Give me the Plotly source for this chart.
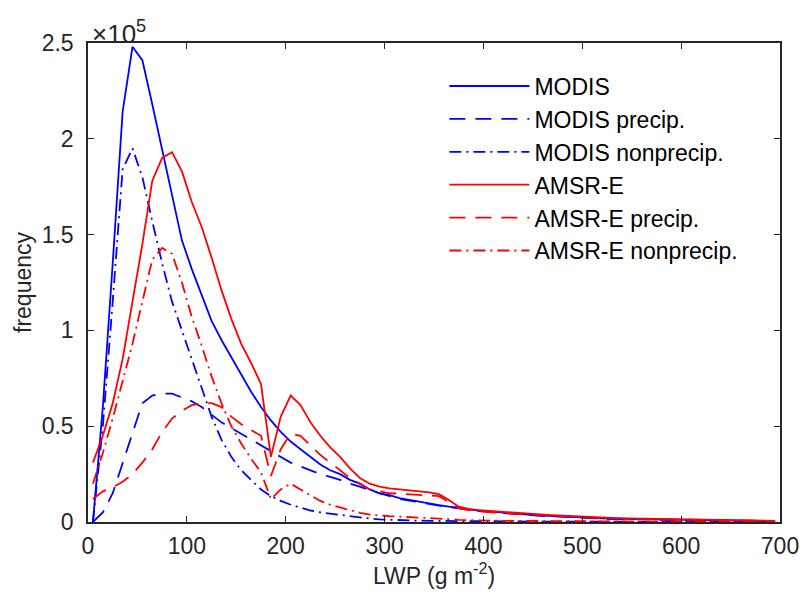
import plotly.graph_objects as go

lwp = list(range(5, 700, 10))

modis = [0, 0.6, 1.35, 2.14, 2.48, 2.41, 2.18, 1.94, 1.71, 1.47, 1.32, 1.19, 1.05, 0.95, 0.86, 0.77, 0.68, 0.60, 0.53, 0.47,
         0.42, 0.38, 0.34, 0.30, 0.27, 0.25, 0.22, 0.20, 0.17, 0.15, 0.14, 0.125, 0.115, 0.105, 0.095, 0.088, 0.08, 0.072, 0.066, 0.06,
         0.055, 0.05, 0.046, 0.042, 0.038, 0.035, 0.032, 0.029, 0.026, 0.024, 0.022, 0.02, 0.018, 0.017, 0.015, 0.014, 0.013, 0.012, 0.011, 0.010,
         0.009, 0.0085, 0.008, 0.0075, 0.007, 0.0065, 0.006, 0.0055, 0.005, 0.005]
modis_precip = [0, 0.05, 0.15, 0.31, 0.47, 0.62, 0.66, 0.67, 0.67, 0.65, 0.63, 0.60, 0.56, 0.52, 0.49, 0.46, 0.43, 0.40, 0.37, 0.34,
                0.31, 0.29, 0.27, 0.25, 0.235, 0.22, 0.20, 0.185, 0.165, 0.15, 0.135, 0.12, 0.112, 0.102, 0.093, 0.085, 0.078, 0.07, 0.064, 0.058,
                0.053, 0.048, 0.044, 0.04, 0.036, 0.033, 0.03, 0.027, 0.025, 0.023, 0.021, 0.019, 0.017, 0.016, 0.014, 0.013, 0.012, 0.011, 0.010, 0.009,
                0.0085, 0.008, 0.0075, 0.007, 0.0065, 0.006, 0.0055, 0.005, 0.0045, 0.0045]
modis_nonprecip = [0, 0.5, 1.15, 1.84, 1.95, 1.80, 1.57, 1.35, 1.15, 1.0, 0.85, 0.69, 0.55, 0.43, 0.34, 0.27, 0.22, 0.17, 0.135, 0.11,
                   0.09, 0.075, 0.06, 0.05, 0.043, 0.036, 0.029, 0.023, 0.018, 0.014, 0.011, 0.009, 0.008, 0.007, 0.006, 0.006, 0.005, 0.005, 0.004, 0.004,
                   0.004, 0.003, 0.003, 0.003, 0.003, 0.002, 0.002, 0.002, 0.002, 0.002, 0.002, 0.001, 0.001, 0.001, 0.001, 0.001, 0.001, 0.001, 0.001, 0.001,
                   0.001, 0.001, 0.001, 0.001, 0.001, 0.001, 0.001, 0.001, 0.001, 0.001]
amsre = [0.31, 0.45, 0.62, 0.85, 1.15, 1.45, 1.78, 1.90, 1.93, 1.83, 1.67, 1.54, 1.38, 1.21, 1.06, 0.93, 0.83, 0.72, 0.34, 0.55,
         0.66, 0.61, 0.52, 0.45, 0.39, 0.34, 0.28, 0.23, 0.20, 0.185, 0.175, 0.17, 0.165, 0.16, 0.155, 0.145, 0.115, 0.08, 0.068, 0.062,
         0.058, 0.054, 0.05, 0.046, 0.043, 0.04, 0.037, 0.034, 0.031, 0.028, 0.026, 0.024, 0.022, 0.02, 0.019, 0.018, 0.016, 0.015, 0.014, 0.013,
         0.012, 0.011, 0.01, 0.0095, 0.009, 0.008, 0.0075, 0.007, 0.0065, 0.006]
amsre_precip = [0.12, 0.16, 0.18, 0.21, 0.25, 0.31, 0.38, 0.47, 0.54, 0.58, 0.61, 0.62, 0.62, 0.60, 0.55, 0.51, 0.48, 0.45, 0.24, 0.38,
                0.46, 0.45, 0.40, 0.35, 0.31, 0.27, 0.23, 0.20, 0.17, 0.16, 0.15, 0.148, 0.145, 0.142, 0.14, 0.135, 0.105, 0.072, 0.062, 0.056,
                0.052, 0.048, 0.045, 0.042, 0.039, 0.036, 0.033, 0.031, 0.028, 0.026, 0.024, 0.022, 0.02, 0.018, 0.017, 0.016, 0.015, 0.014, 0.013, 0.012,
                0.011, 0.01, 0.0095, 0.009, 0.0085, 0.008, 0.007, 0.0065, 0.006, 0.0055]
amsre_nonprecip = [0.2, 0.36, 0.54, 0.73, 0.93, 1.15, 1.37, 1.43, 1.40, 1.25, 1.07, 0.92, 0.76, 0.62, 0.50, 0.41, 0.33, 0.26, 0.12, 0.17,
                   0.20, 0.17, 0.14, 0.11, 0.09, 0.075, 0.06, 0.048, 0.038, 0.033, 0.03, 0.028, 0.026, 0.024, 0.022, 0.02, 0.015, 0.011, 0.009, 0.008,
                   0.007, 0.0065, 0.006, 0.0055, 0.005, 0.0045, 0.004, 0.004, 0.0035, 0.003, 0.003, 0.003, 0.0025, 0.0025, 0.002, 0.002, 0.002, 0.002, 0.0015, 0.0015,
                   0.0015, 0.0015, 0.001, 0.001, 0.001, 0.001, 0.001, 0.001, 0.001, 0.001]

series = [
    ("MODIS", modis, "#0000FF", "solid"),
    ("MODIS precip.", modis_precip, "#0000FF", "16px,10px"),
    ("MODIS nonprecip.", modis_nonprecip, "#0000FF", "12px,5px,2px,5px"),
    ("AMSR-E", amsre, "#FF0000", "solid"),
    ("AMSR-E precip.", amsre_precip, "#FF0000", "16px,10px"),
    ("AMSR-E nonprecip.", amsre_nonprecip, "#FF0000", "12px,5px,2px,5px"),
]

SCALE = 1e5
y_ticks = [0, 0.5, 1, 1.5, 2, 2.5]
x_ticks = [0, 100, 200, 300, 400, 500, 600, 700]

fig = go.Figure()
for name, vals, color, dash in series:
    fig.add_trace(go.Scatter(
        x=lwp, y=[v * SCALE for v in vals], mode="lines", name=name,
        line=dict(color=color, width=1.8, dash=dash),
    ))

font = "Liberation Sans, Arial, Helvetica, sans-serif"
axcol = "#262626"
fig.update_layout(
    width=811, height=607,
    margin=dict(l=88, r=25, t=43, b=85),
    paper_bgcolor="white", plot_bgcolor="white",
    font=dict(family=font, size=23, color=axcol),
    showlegend=True,
    legend=dict(x=0.515, y=0.955, xanchor="left", yanchor="top",
                bgcolor="rgba(0,0,0,0)", borderwidth=0,
                font=dict(family=font, size=23, color="#000000"), itemwidth=80),
    xaxis=dict(range=[0, 700], tickvals=x_ticks, ticktext=[str(v) for v in x_ticks],
               ticks="inside", ticklen=6, tickwidth=1.2, tickcolor=axcol,
               showline=True, linecolor=axcol, linewidth=1.5, mirror="ticks",
               showgrid=False, zeroline=False, ticklabelstandoff=3,
               title=dict(text="LWP (g m<sup>-2</sup>)", font=dict(family=font, size=23, color=axcol), standoff=8),
               tickfont=dict(family=font, size=23, color=axcol)),
    yaxis=dict(range=[0, 2.5 * SCALE], tickvals=[v * SCALE for v in y_ticks],
               ticktext=["0", "0.5", "1", "1.5", "2", "2.5"],
               ticks="inside", ticklen=6, tickwidth=1.2, tickcolor=axcol,
               showline=True, linecolor=axcol, linewidth=1.5, mirror="ticks",
               showgrid=False, zeroline=False, ticklabelstandoff=8,
               title=dict(text="frequency", font=dict(family=font, size=23, color=axcol), standoff=4),
               tickfont=dict(family=font, size=23, color=axcol)),
)

fig.add_annotation(xref="paper", yref="paper", x=0.0, y=1.0, xanchor="left", yanchor="bottom",
                   text="×10<sup>5</sup>", showarrow=False,
                   font=dict(family=font, size=26, color=axcol), xshift=2, yshift=-8)

fig.write_html("out.html")
